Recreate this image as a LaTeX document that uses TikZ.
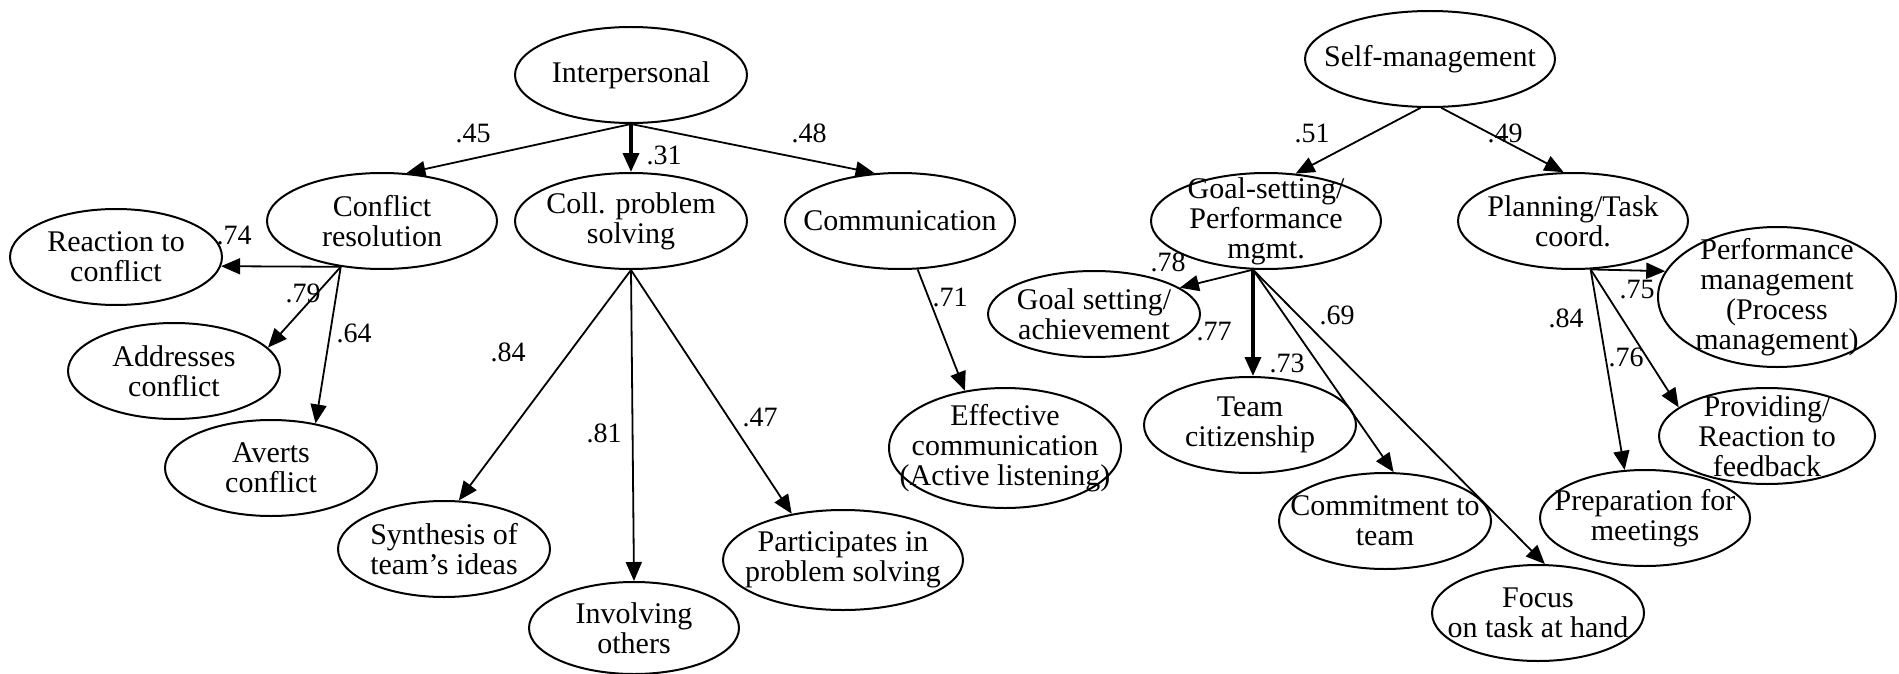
\documentclass[tikz,border=0pt]{standalone}
\usepackage{fontspec}
\setmainfont{Liberation Serif}
\usetikzlibrary{shapes.geometric,arrows.meta}
\begin{document}
\begin{tikzpicture}[x=0.5pt,y=-0.5pt,
  ell/.style={ellipse,draw,line width=1pt,inner sep=0pt},
  sz/.style 2 args={minimum width=#1*0.5pt,minimum height=#2*0.5pt},
  lbl/.style={align=center,font=\fontsize{15}{15}\selectfont,inner sep=0pt},
  wt/.style={font=\fontsize{14}{14}\selectfont,inner sep=0pt},
  edge/.style={-{Triangle[length=9.5pt,width=8pt]},line width=0.9pt},
  thickedge/.style={edge,line width=1.8pt}]
\useasboundingbox (0,0) rectangle (1899,674);
% left cluster
\node[ell,sz={232}{96},label={[lbl]center:Interpersonal}] (ip) at (631,75) {};
\node[ell,sz={230}{96},label={[lbl]center:{Conflict\\resolution}}] (cr) at (382,221) {};
\node[ell,sz={232}{96},label={[lbl]center:{Coll. problem\\solving}}] (cps) at (631,221) {};
\node[ell,sz={230}{96},label={[lbl]center:Communication}] (com) at (900,221) {};
\node[ell,sz={212}{96},label={[lbl]center:{Reaction to\\conflict}}] (rtc) at (116,257) {};
\node[ell,sz={212}{96},label={[lbl]center:{Addresses\\conflict}}] (adc) at (174,371) {};
\node[ell,sz={212}{96},label={[lbl]center:{Averts\\conflict}}] (avc) at (271,468) {};
\node[ell,sz={212}{96},label={[lbl]center:{Synthesis of\\team’s ideas}}] (syn) at (444,549) {};
\node[ell,sz={210}{92},label={[lbl]center:{Involving\\others}}] (inv) at (634,628) {};
\node[ell,sz={240}{100},label={[lbl]center:{Participates in\\problem solving}}] (par) at (843,560) {};
\node[ell,sz={232}{120},label={[lbl]center:{Effective\\communication\\(Active listening)}}] (eff) at (1005,448) {};
% right cluster
\node[ell,sz={250}{96},label={[lbl]center:Self-management}] (sm) at (1430,59) {};
\node[ell,sz={230}{96},label={[lbl]center:{Goal-setting/\\Performance\\mgmt.}}] (gs) at (1266,221) {};
\node[ell,sz={230}{96},label={[lbl]center:{Planning/Task\\coord.}}] (pt) at (1573,221) {};
\node[ell,sz={212}{86},label={[lbl]center:{Goal setting/\\achievement}}] (gsa) at (1094,314) {};
\node[ell,sz={212}{96},label={[lbl]center:{Team\\citizenship}}] (tc) at (1250,425) {};
\node[ell,sz={212}{96},label={[lbl]center:{Commitment to\\team}}] (ct) at (1385,521) {};
\node[ell,sz={212}{96},label={[lbl]center:{Focus\\on task at hand}}] (foc) at (1538,613) {};
\node[ell,sz={238}{140},label={[lbl]center:{Performance\\management\\(Process\\management)}}] (pm) at (1777,297) {};
\node[ell,sz={216}{96},label={[lbl]center:{Providing/\\Reaction to\\feedback}}] (prf) at (1767,436) {};
\node[ell,sz={210}{96},label={[lbl]center:{Preparation for\\meetings}}] (pfm) at (1645,518) {};
% connectors
\draw[edge] (ip.south) -- (cr.63);
\draw[thickedge] (ip.south) -- (cps.north);
\draw[edge] (ip.south) -- (com.118);
\draw[edge] (cr.228) -- (rtc.355);
\draw[edge] (cr.228) -- (adc.14);
\draw[edge] (cr.228) -- (avc.45);
\draw[edge] (cps.south) -- (syn.73);
\draw[edge] (cps.south) -- (inv.north);
\draw[edge] (cps.south) -- (par.138);
\draw[edge] (com.290) -- (eff.125);
\draw[edge] (sm.259) -- (gs.58);
\draw[edge] (sm.283) -- (pt.101);
\draw[edge] (gs.255) -- (gsa.17);
\draw[thickedge] (gs.255) -- (gs.255 |- tc.north);
\draw[edge] (gs.255) -- (ct.80);
\draw[edge] (gs.255) -- (foc.82);
\draw[edge] (pt.290) -- (pm.167);
\draw[edge] (pt.290) -- (pfm.113);
\draw[edge] (pt.290) -- (prf.162);
% weights
\node[wt] (w45) at (473,133) {.45};
\node[wt] (w31) at (664,155) {.31};
\node[wt] (w48) at (809,133) {.48};
\node[wt] (w74) at (234,235) {.74};
\node[wt] (w79) at (303,293) {.79};
\node[wt] (w64) at (354,333) {.64};
\node[wt] (w84a) at (508,352) {.84};
\node[wt] (w81) at (604,433) {.81};
\node[wt] (w47) at (760,417) {.47};
\node[wt] (w71) at (950,297) {.71};
\node[wt] (w51) at (1312,133) {.51};
\node[wt] (w49) at (1505,133) {.49};
\node[wt] (w78) at (1168,262) {.78};
\node[wt] (w77) at (1214,332) {.77};
\node[wt] (w73) at (1287,363) {.73};
\node[wt] (w69) at (1337,315) {.69};
\node[wt] (w84b) at (1566,318) {.84};
\node[wt] (w75) at (1637,290) {.75};
\node[wt] (w76) at (1626,357) {.76};
\end{tikzpicture}
\end{document}
